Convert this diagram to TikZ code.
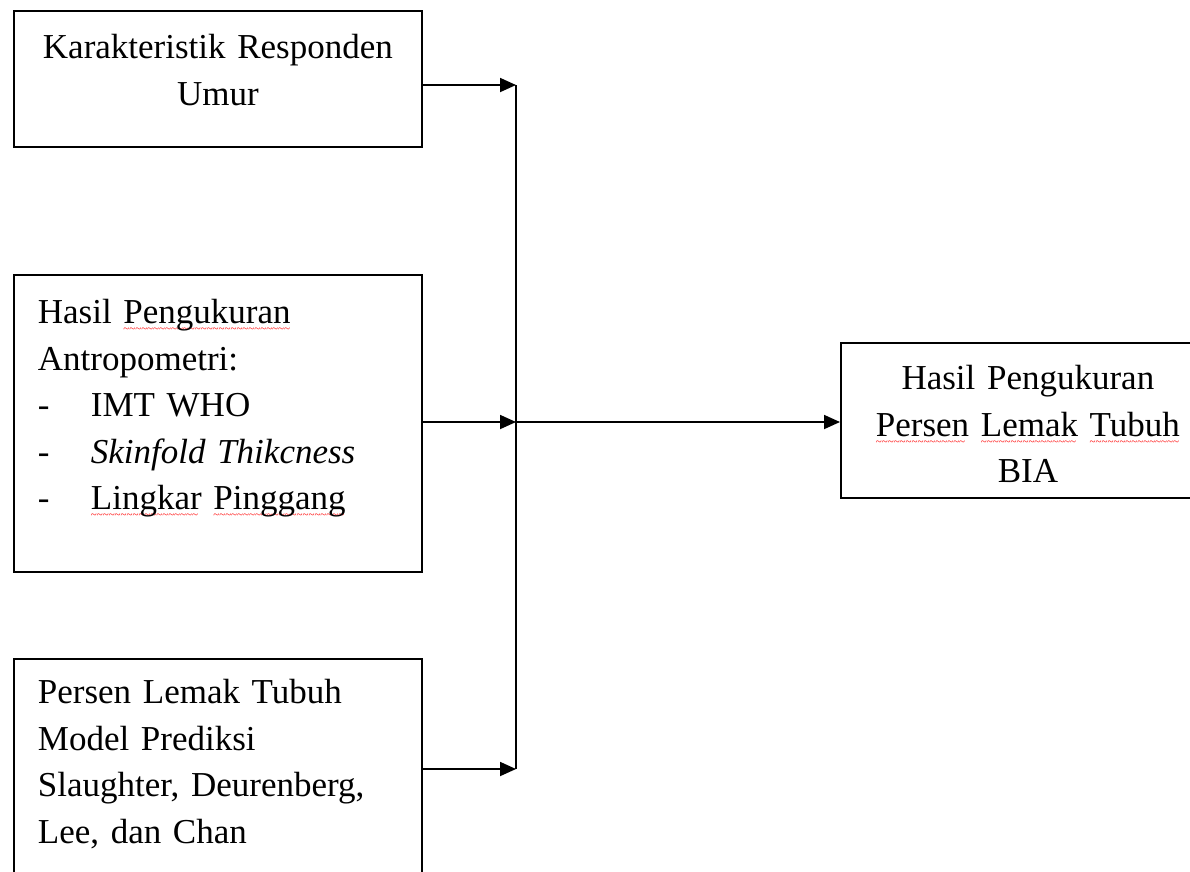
\documentclass[tikz,border=0pt]{standalone}
\usepackage{fontspec}
\setmainfont{Liberation Serif}
\usetikzlibrary{arrows.meta}
\newsavebox{\katabox}
\newcommand{\redwave}[1]{%
  \leavevmode\sbox{\katabox}{#1}%
  \rlap{\raisebox{-9pt}{\textcolor{red}{\fontsize{11pt}{11pt}\selectfont\leaders\hbox{\char"7E}\hskip\wd\katabox}}}#1%
}
\newcommand{\butir}[1]{%
  \makebox[53pt][l]{-}#1%
}

\begin{document}
\begin{tikzpicture}[
        x=1pt, y=-1pt,
        every node/.style={inner ysep=0pt, inner xsep=24pt, font=\fontsize{35pt}{46.5pt}\selectfont},
        blok/.style={draw, line width=1.8pt, anchor=north west},
        arr/.style={-{Triangle[length=16pt,width=14pt]}, line width=1.8pt},
      ]
      \useasboundingbox (0,0) rectangle (1190,871);
      \node[blok, align=center, text width=360pt, text height=48pt, text depth=88pt] (umur) at (13,10)
        {Karakteristik Responden\\Umur};
      \node[blok, align=left, text width=360pt, text height=49pt, text depth=248pt] (antro) at (13,274)
        {Hasil \redwave{Pengukuran}\\Antropometri:\\\butir{IMT WHO}\\\butir{\textit{Skinfold Thikcness}}\\\butir{\redwave{Lingkar} \redwave{Pinggang}}};
      \node[blok, align=left, text width=360pt, text height=45pt, text depth=175pt] (prediksi) at (13,658)
        {Persen Lemak Tubuh\\Model Prediksi\\Slaughter, Deurenberg,\\Lee, dan Chan};
      \node[blok, align=center, text width=326pt, text height=47pt, text depth=108pt] (bia) at (840,342)
        {Hasil Pengukuran\\\redwave{Persen} \redwave{Lemak} \redwave{Tubuh}\\BIA};
      \coordinate (atas) at (516,85);
      \coordinate (tengah) at (516,422);
      \coordinate (bawah) at (516,769);
      \draw[line width=1.8pt] (atas) -- (bawah);
      \draw[arr] (umur.east |- atas) -- (atas);
      \draw[arr] (antro.east |- tengah) -- (tengah);
      \draw[arr] (prediksi.east |- bawah) -- (bawah);
      \draw[arr] (tengah) -- (bia.west |- tengah);
      \end{tikzpicture}
\end{document}
